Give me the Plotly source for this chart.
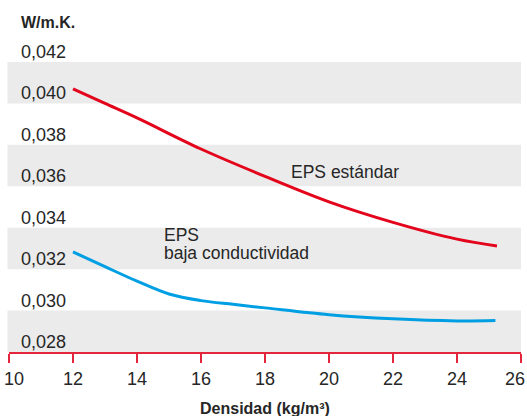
import plotly.graph_objects as go

# Data
densidad_std = [12, 13, 14, 16, 18, 20, 22, 24, 25.25]
lambda_std = [0.0407, 0.0400, 0.0393, 0.0378, 0.03648, 0.03525, 0.03426, 0.03345, 0.03312]

densidad_baja = [12, 13, 14, 15, 16, 17, 18, 20, 22, 24, 25.2]
lambda_baja = [0.03283, 0.03212, 0.03142, 0.03080, 0.03048, 0.03030, 0.03013, 0.02980, 0.02960, 0.02950, 0.02952]

x_ticks = [10, 12, 14, 16, 18, 20, 22, 24, 26]
y_ticks = [0.028, 0.030, 0.032, 0.034, 0.036, 0.038, 0.040, 0.042]
y_tick_labels = ["0,028", "0,030", "0,032", "0,034", "0,036", "0,038", "0,040", "0,042"]
band_pairs = [(0.028, 0.030), (0.032, 0.034), (0.036, 0.038), (0.040, 0.042)]

FONT = "Liberation Sans, Arial, Helvetica, sans-serif"
TXT = "#262626"
AXIS_RED = "#e3263c"

fig = go.Figure()
fig.add_trace(go.Scatter(x=densidad_std, y=lambda_std, mode="lines",
                         line=dict(color="#e3051b", width=3, shape="spline"),
                         hoverinfo="skip", showlegend=False))
fig.add_trace(go.Scatter(x=densidad_baja, y=lambda_baja, mode="lines",
                         line=dict(color="#009fe3", width=3, shape="spline"),
                         hoverinfo="skip", showlegend=False))

shapes = []
for y0, y1 in band_pairs:
    shapes.append(dict(type="rect", xref="paper", yref="y", x0=-0.003, x1=1,
                       y0=y0, y1=y1, fillcolor="#ebebeb", line=dict(width=0),
                       layer="below"))

annotations = []
for v, t in zip(y_ticks, y_tick_labels):
    annotations.append(dict(xref="paper", yref="y", x=0, y=v, text=t,
                            xanchor="left", yanchor="middle", xshift=10, yshift=10,
                            showarrow=False, font=dict(family=FONT, size=18, color=TXT)))
for i, v in enumerate(x_ticks):
    shift = 0
    if i == 0:
        shift = 5
    elif i == len(x_ticks) - 1:
        shift = -6
    annotations.append(dict(xref="x", yref="paper", x=v, y=0, text=str(v),
                            xanchor="center", yanchor="middle", xshift=shift, yshift=-27,
                            showarrow=False, font=dict(family=FONT, size=18, color=TXT)))

annotations += [
    dict(xref="paper", yref="paper", x=0, y=1, xshift=10, yshift=40, text="<b>W/m.K.</b>",
         xanchor="left", yanchor="middle", showarrow=False,
         font=dict(family=FONT, size=16, color=TXT)),
    dict(xref="paper", yref="paper", x=0.5, y=0, xshift=0, yshift=-56,
         text="<b>Densidad (kg/m³)</b>", xanchor="center", yanchor="middle",
         showarrow=False, font=dict(family=FONT, size=16, color=TXT)),
    dict(xref="x", yref="y", x=18.75, y=0.03669, text="EPS estándar",
         xanchor="left", yanchor="middle", showarrow=False,
         font=dict(family=FONT, size=17.5, color=TXT)),
    dict(xref="x", yref="y", x=14.78, y=0.03365, text="EPS",
         xanchor="left", yanchor="middle", showarrow=False,
         font=dict(family=FONT, size=17.5, color=TXT)),
    dict(xref="x", yref="y", x=14.78, y=0.03278, text="baja conductividad",
         xanchor="left", yanchor="middle", showarrow=False,
         font=dict(family=FONT, size=17.5, color=TXT)),
]

fig.update_layout(
    width=527, height=416,
    margin=dict(l=9, r=6, t=62, b=64),
    paper_bgcolor="white", plot_bgcolor="rgba(0,0,0,0)",
    shapes=shapes, annotations=annotations,
    xaxis=dict(range=[10, 26], tickvals=x_ticks, showticklabels=False,
               ticks="outside", ticklen=9, tickwidth=2, tickcolor=AXIS_RED,
               showline=True, linecolor=AXIS_RED, linewidth=2,
               showgrid=False, zeroline=False, fixedrange=True),
    yaxis=dict(range=[0.028, 0.042], showticklabels=False, ticks="",
               showgrid=False, zeroline=False, showline=False, fixedrange=True),
    font=dict(family=FONT, color=TXT),
)

fig.write_html("out.html", config={"displayModeBar": False},
               post_script="document.body.style.margin='0';document.body.style.overflow='hidden';")
